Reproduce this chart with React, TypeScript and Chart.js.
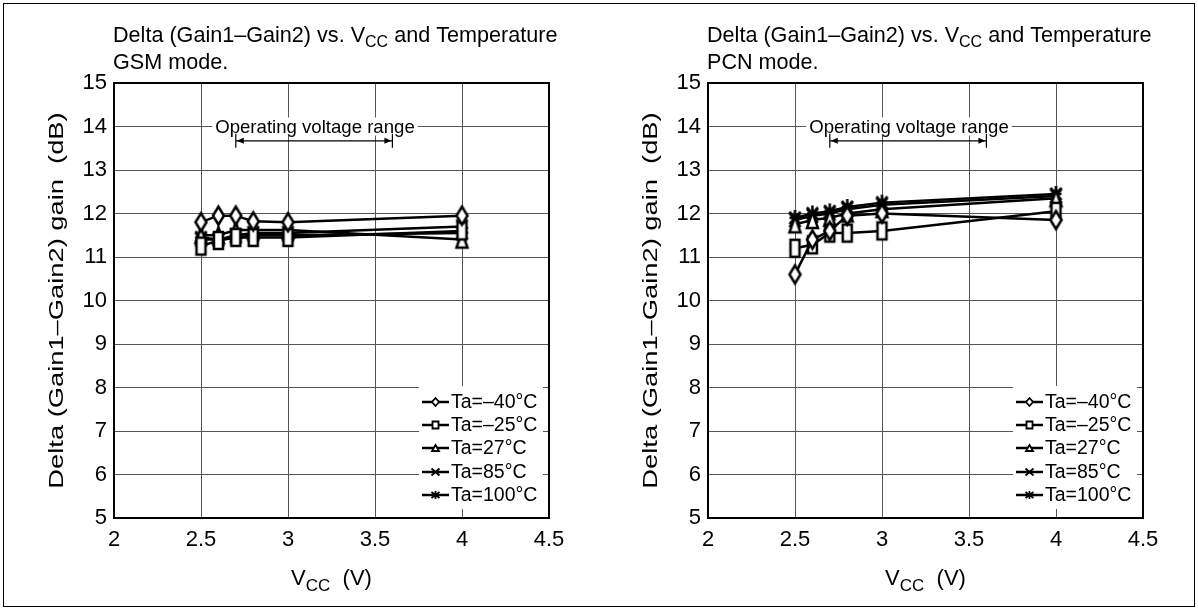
import React, { useEffect, useRef } from "react";
import { Chart, registerables } from "chart.js";

Chart.register(...registerables);

// ---------- data ----------
const VCC = [2.5, 2.6, 2.7, 2.8, 3.0, 4.0];
const SERIES_LABELS = ["Ta=–40°C", "Ta=–25°C", "Ta=27°C", "Ta=85°C", "Ta=100°C"];
const MARKERS = ["diamond", "square", "triangle", "cross", "star"];

const GSM_M40 = [11.8, 11.95, 11.95, 11.82, 11.8, 11.95];
const GSM_M25 = [11.25, 11.38, 11.45, 11.45, 11.45, 11.6];
const GSM_P27 = [11.5, 11.5, 11.62, 11.62, 11.62, 11.4];
const GSM_P85 = [11.4, 11.4, 11.5, 11.55, 11.55, 11.7];
const GSM_P100 = [11.45, 11.4, 11.45, 11.5, 11.5, 11.55];

const PCN_M40 = [10.6, 11.4, 11.6, 11.95, 12.0, 11.85];
const PCN_M25 = [11.2, 11.28, 11.55, 11.55, 11.6, 12.05];
const PCN_P27 = [11.75, 11.85, 11.9, 12.0, 12.1, 12.35];
const PCN_P85 = [11.85, 11.95, 12.0, 12.1, 12.2, 12.4];
const PCN_P100 = [11.9, 12.0, 12.05, 12.15, 12.25, 12.45];

const X_TICKS = [2, 2.5, 3, 3.5, 4, 4.5];
const Y_TICKS = [5, 6, 7, 8, 9, 10, 11, 12, 13, 14, 15];

const TITLE_MAIN = "Delta (Gain1–Gain2) vs. V";
const TITLE_SUB = "CC";
const TITLE_END = " and Temperature";
const Y_TITLE = "Delta (Gain1–Gain2) gain  (dB)";
const X_TITLE_MAIN = "V";
const X_TITLE_SUB = "CC";
const X_TITLE_END = "  (V)";
const ANNOT_TEXT = "Operating voltage range";
const RANGE_START = 2.7;
const RANGE_END = 3.6;
const RANGE_LEVEL = 13.67;
const ANNOT_LEVEL = 14;
const ANNOT_CENTER = 3.155;

const FONT = '"Liberation Sans", Arial, Helvetica, sans-serif';

// ---------- marker drawing ----------
function drawShape(
  ctx: CanvasRenderingContext2D,
  kind: string,
  cx: number,
  cy: number,
  w: number,
  h: number,
  lw: number
) {
  ctx.save();
  ctx.strokeStyle = "#000";
  ctx.fillStyle = "#fff";
  ctx.lineWidth = lw;
  ctx.lineJoin = "miter";
  ctx.beginPath();
  if (kind === "diamond") {
    ctx.moveTo(cx, cy - h / 2);
    ctx.lineTo(cx + w / 2, cy);
    ctx.lineTo(cx, cy + h / 2);
    ctx.lineTo(cx - w / 2, cy);
    ctx.closePath();
    ctx.fill();
    ctx.stroke();
  } else if (kind === "square") {
    ctx.rect(cx - w / 2, cy - h / 2, w, h);
    ctx.fill();
    ctx.stroke();
  } else if (kind === "triangle") {
    ctx.moveTo(cx, cy - h / 2);
    ctx.lineTo(cx + w / 2, cy + h / 2);
    ctx.lineTo(cx - w / 2, cy + h / 2);
    ctx.closePath();
    ctx.fill();
    ctx.stroke();
  } else if (kind === "cross") {
    ctx.moveTo(cx - w / 2, cy - h / 2);
    ctx.lineTo(cx + w / 2, cy + h / 2);
    ctx.moveTo(cx + w / 2, cy - h / 2);
    ctx.lineTo(cx - w / 2, cy + h / 2);
    ctx.stroke();
  } else if (kind === "star") {
    ctx.moveTo(cx, cy - h / 2);
    ctx.lineTo(cx, cy + h / 2);
    ctx.moveTo(cx - w / 2, cy - h / 2.6);
    ctx.lineTo(cx + w / 2, cy + h / 2.6);
    ctx.moveTo(cx + w / 2, cy - h / 2.6);
    ctx.lineTo(cx - w / 2, cy + h / 2.6);
    ctx.moveTo(cx - w / 2, cy);
    ctx.lineTo(cx + w / 2, cy);
    ctx.stroke();
  }
  ctx.restore();
}

const DATA_MARK_SIZE: Record<string, [number, number]> = {
  diamond: [11, 18],
  square: [9, 17],
  triangle: [11, 16],
  cross: [11, 14],
  star: [11, 16],
};
const LEG_MARK_SIZE: Record<string, [number, number]> = {
  diamond: [7, 8],
  square: [6, 7],
  triangle: [7, 6],
  cross: [8, 7],
  star: [8, 8],
};

function makeMarker(kind: string): HTMLCanvasElement {
  const [w, h] = DATA_MARK_SIZE[kind];
  const c = document.createElement("canvas");
  c.width = w + 6;
  c.height = h + 6;
  const ctx = c.getContext("2d")!;
  drawShape(ctx, kind, c.width / 2, c.height / 2, w, h, 2.5);
  return c;
}

function drawSubText(
  ctx: CanvasRenderingContext2D,
  main: string,
  sub: string,
  end: string,
  x: number,
  y: number,
  size: number,
  center: boolean
) {
  const subSize = Math.round(size * 0.75);
  ctx.font = `${size}px ${FONT}`;
  const w1 = ctx.measureText(main).width;
  const w3 = ctx.measureText(end).width;
  ctx.font = `${subSize}px ${FONT}`;
  const w2 = ctx.measureText(sub).width;
  const total = w1 + w2 + w3;
  const sx = center ? x - total / 2 : x;
  ctx.textAlign = "left";
  ctx.textBaseline = "alphabetic";
  ctx.fillStyle = "#000";
  ctx.font = `${size}px ${FONT}`;
  ctx.fillText(main, sx, y);
  ctx.font = `${subSize}px ${FONT}`;
  ctx.fillText(sub, sx + w1, y + size * 0.25);
  ctx.font = `${size}px ${FONT}`;
  ctx.fillText(end, sx + w1 + w2, y);
}

type PanelProps = { mode: string; series: number[][]; width: number; rightPad: number };

function Panel({ mode, series, width, rightPad }: PanelProps) {
  const ref = useRef<HTMLCanvasElement>(null);
  useEffect(() => {
    const canvas = ref.current!;
    const imgs = MARKERS.map((k) => makeMarker(k));
    const datasets = SERIES_LABELS.map((label, i) => ({
      label,
      data: VCC.map((x, j) => ({ x, y: series[i][j] })),
      borderColor: "#000",
      backgroundColor: "#000",
      borderWidth: 2.5,
      pointStyle: imgs[i] as any,
      pointRadius: 9,
      pointHoverRadius: 9,
      tension: 0,
    }));

    const overlay = {
      id: "overlay",
      afterDraw(chart: any) {
        const { ctx, chartArea: a, scales } = chart;
        const xs = scales.x;
        const ys = scales.y;
        ctx.save();
        // frame of plot
        ctx.strokeStyle = "#000";
        ctx.lineWidth = 2;
        ctx.strokeRect(a.left, a.top, a.right - a.left, a.bottom - a.top);

        // titles
        drawSubText(ctx, TITLE_MAIN, TITLE_SUB, TITLE_END, a.left - 1, 42, 21.6, false);
        ctx.font = `21.6px ${FONT}`;
        ctx.textAlign = "left";
        ctx.textBaseline = "alphabetic";
        ctx.fillText(mode, a.left - 1, 69);

        // x title
        drawSubText(ctx, X_TITLE_MAIN, X_TITLE_SUB, X_TITLE_END, (a.left + a.right) / 2, 585, 22, true);

        // y title (stretched along its length, as in the source)
        ctx.save();
        ctx.translate(57, (a.top + a.bottom) / 2);
        ctx.rotate(-Math.PI / 2);
        ctx.scale(1.3, 1);
        ctx.font = `21px ${FONT}`;
        ctx.textAlign = "center";
        ctx.textBaseline = "middle";
        ctx.fillStyle = "#000";
        ctx.fillText(Y_TITLE, 0, 0);
        ctx.restore();

        // annotation text with white background
        ctx.font = `18.6px ${FONT}`;
        const tw = ctx.measureText(ANNOT_TEXT).width;
        const tx = xs.getPixelForValue(ANNOT_CENTER);
        const ty = ys.getPixelForValue(ANNOT_LEVEL);
        ctx.fillStyle = "#fff";
        ctx.fillRect(tx - tw / 2 - 3, ty - 9, tw + 6, 18);
        ctx.fillStyle = "#000";
        ctx.textAlign = "center";
        ctx.textBaseline = "middle";
        ctx.fillText(ANNOT_TEXT, tx, ty + 1);

        // range arrow
        const x1 = xs.getPixelForValue(RANGE_START);
        const x2 = xs.getPixelForValue(RANGE_END);
        const ay = ys.getPixelForValue(RANGE_LEVEL);
        ctx.strokeStyle = "#000";
        ctx.lineWidth = 1.2;
        ctx.beginPath();
        ctx.moveTo(x1, ay);
        ctx.lineTo(x2, ay);
        ctx.moveTo(x1, ay - 7);
        ctx.lineTo(x1, ay + 7);
        ctx.moveTo(x2, ay - 7);
        ctx.lineTo(x2, ay + 7);
        ctx.stroke();
        ctx.fillStyle = "#000";
        ctx.beginPath();
        ctx.moveTo(x1 + 1, ay);
        ctx.lineTo(x1 + 8, ay - 3);
        ctx.lineTo(x1 + 8, ay + 3);
        ctx.closePath();
        ctx.moveTo(x2 - 1, ay);
        ctx.lineTo(x2 - 8, ay - 3);
        ctx.lineTo(x2 - 8, ay + 3);
        ctx.closePath();
        ctx.fill();

        // legend
        ctx.fillStyle = "#fff";
        ctx.fillRect(a.right - 130, a.bottom - 132, 124, 123);
        const rows = [116, 93, 70, 46, 23];
        SERIES_LABELS.forEach((label, i) => {
          const cy = a.bottom - rows[i];
          const lx1 = a.right - 127;
          const lx2 = a.right - 100;
          ctx.strokeStyle = "#000";
          ctx.lineWidth = 2.5;
          ctx.beginPath();
          ctx.moveTo(lx1, cy);
          ctx.lineTo(lx2, cy);
          ctx.stroke();
          const [mw, mh] = LEG_MARK_SIZE[MARKERS[i]];
          drawShape(ctx, MARKERS[i], (lx1 + lx2) / 2, cy, mw, mh, 1.8);
          ctx.fillStyle = "#000";
          ctx.font = `19.5px ${FONT}`;
          ctx.textAlign = "left";
          ctx.textBaseline = "middle";
          ctx.fillText(label, a.right - 98, cy + 1);
        });
        ctx.restore();
      },
    };

    const chart = new Chart(canvas, {
      type: "line",
      data: { datasets: datasets as any },
      options: {
        responsive: false,
        animation: false,
        devicePixelRatio: 1,
        layout: { padding: { top: 83, right: rightPad, left: 0, bottom: 0 } },
        plugins: {
          legend: { display: false },
          tooltip: { enabled: false },
          title: { display: false },
        },
        scales: {
          x: {
            type: "linear",
            min: 2,
            max: 4.5,
            afterFit: (s: any) => {
              s.height = 92;
            },
            afterBuildTicks: (s: any) => {
              s.ticks = X_TICKS.map((v) => ({ value: v }));
            },
            ticks: {
              font: { family: FONT, size: 22 },
              color: "#000",
              padding: 9,
              maxRotation: 0,
              autoSkip: false,
              callback: (v: any) => String(v),
            },
            grid: { color: "#555", lineWidth: 1, drawTicks: false },
            border: { color: "#000", width: 2 },
          },
          y: {
            type: "linear",
            min: 5,
            max: 15,
            afterFit: (s: any) => {
              s.width = 114;
            },
            afterBuildTicks: (s: any) => {
              s.ticks = Y_TICKS.map((v) => ({ value: v }));
            },
            ticks: {
              font: { family: FONT, size: 22 },
              color: "#000",
              padding: 7,
              autoSkip: false,
              callback: (v: any) => String(v),
            },
            grid: { color: "#555", lineWidth: 1, drawTicks: false },
            border: { color: "#000", width: 2 },
          },
        },
      } as any,
      plugins: [overlay],
    });
    return () => chart.destroy();
  }, []);
  return (
    <canvas
      ref={ref}
      width={width}
      height={610}
      style={{ display: "block", width, height: 610 }}
    />
  );
}

export default function App() {
  const gsm = [GSM_M40, GSM_M25, GSM_P27, GSM_P85, GSM_P100];
  const pcn = [PCN_M40, PCN_M25, PCN_P27, PCN_P85, PCN_P100];
  return (
    <div style={{ position: "relative", width: 1198, height: 610, background: "#fff", overflow: "hidden" }}>
      <style>{`body{margin:0;}`}</style>
      <div style={{ position: "absolute", left: 0, top: 0 }}>
        <Panel mode="GSM mode." series={gsm} width={594} rightPad={45} />
      </div>
      <div style={{ position: "absolute", left: 594, top: 0 }}>
        <Panel mode="PCN mode." series={pcn} width={604} rightPad={55} />
      </div>
      <div
        style={{
          position: "absolute",
          left: 3,
          top: 3,
          width: 1192,
          height: 604,
          border: "1px solid #000",
          boxSizing: "border-box",
          pointerEvents: "none",
        }}
      />
    </div>
  );
}
